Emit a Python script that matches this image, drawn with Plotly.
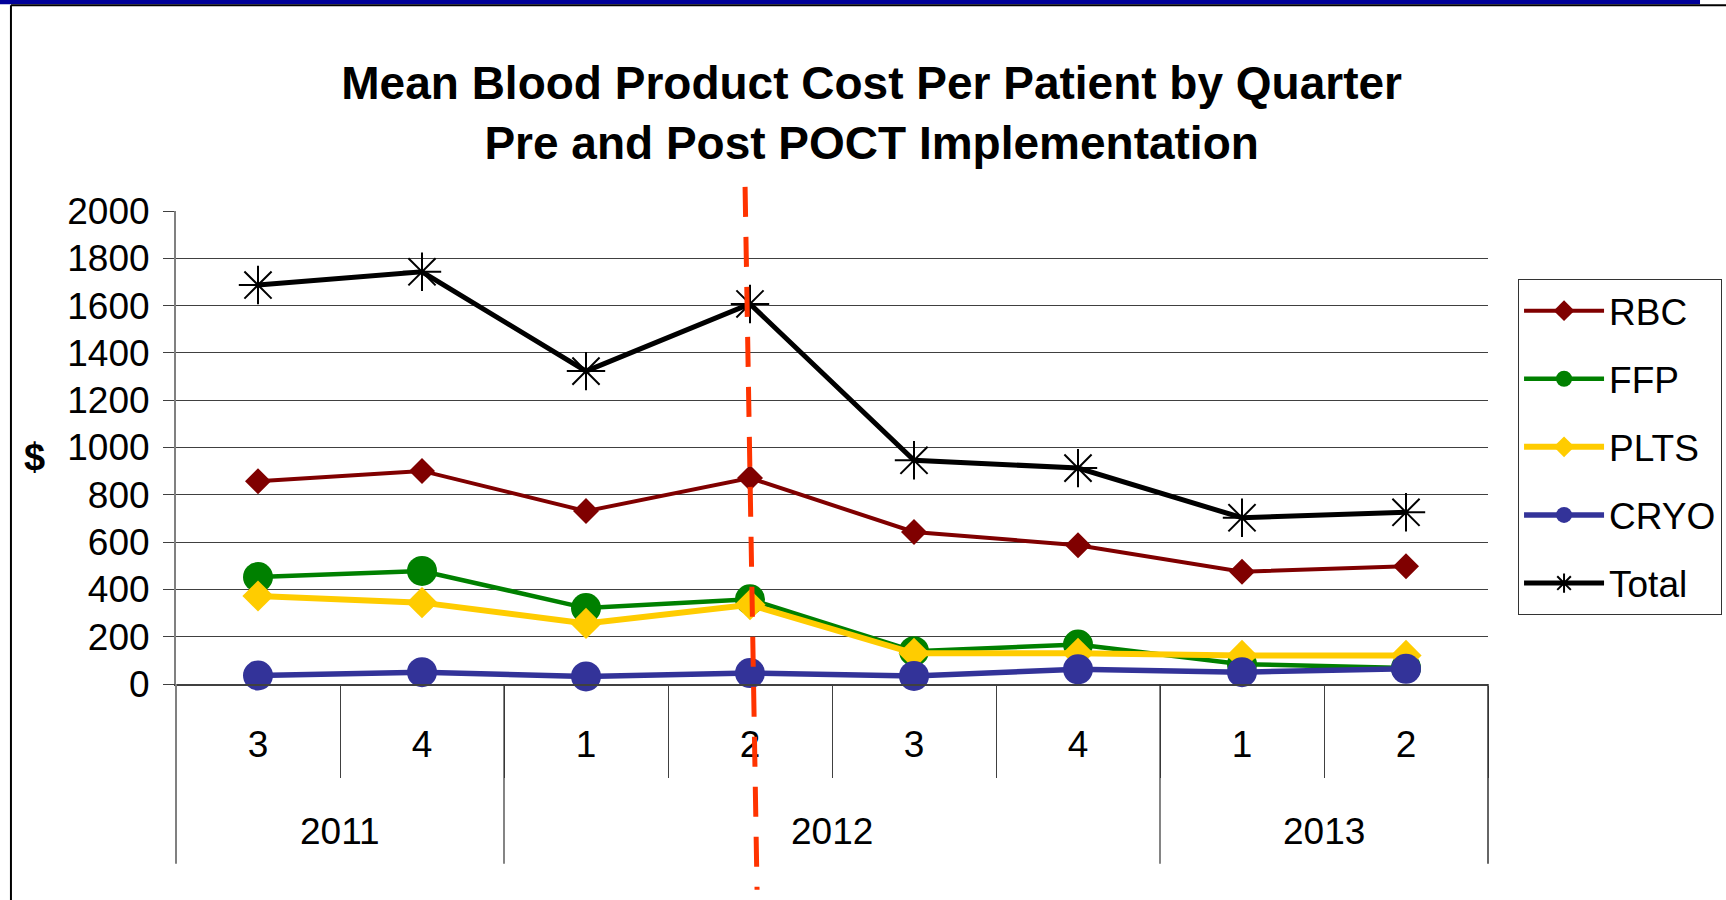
import plotly.graph_objects as go

# ---------------- data ----------------
quarters = ["3", "4", "1", "2", "3", "4", "1", "2"]
years = ["2011", "2012", "2013"]
year_spans = [(0, 1), (2, 5), (6, 7)]          # first / last quarter index of each year
rbc = [857, 901, 731, 871, 643, 587, 475, 498]
ffp = [452, 478, 321, 358, 139, 167, 84, 68]
plts = [372, 344, 256, 335, 130, 130, 121, 121]
cryo = [36, 50, 32, 46, 34, 62, 50, 64]
total = [1687, 1743, 1323, 1607, 946, 913, 703, 726]
y_ticks = list(range(0, 2001, 200))
poct_quarter = 3            # index of 2012 Q2 (POCT implementation)

x = list(range(len(quarters)))

FONT = "Liberation Sans, Arial, sans-serif"

fig = go.Figure()

series = [
    ("RBC", rbc, "#800000", "diamond", 20, 4),
    ("FFP", ffp, "#008000", "circle", 30, 4.5),
    ("PLTS", plts, "#FFCC00", "diamond", 24, 6),
    ("CRYO", cryo, "#333399", "circle", 30, 5.5),
]
for name, vals, col, sym, ms, lw in series:
    fig.add_trace(go.Scatter(
        x=x, y=vals, name=name, mode="lines+markers", legendgroup=name,
        line=dict(color=col, width=lw),
        marker=dict(symbol=sym, size=ms, color=col, line=dict(width=0)),
        cliponaxis=False,
    ))
fig.add_trace(go.Scatter(
    x=x, y=total, name="Total", mode="lines+markers", legendgroup="Total",
    line=dict(color="black", width=5),
    marker=dict(symbol="asterisk-open", size=32, color="black", line=dict(width=2, color="black")),
    cliponaxis=False,
))

shapes = []
# year dividers below the axis
for a, b in year_spans[:-1]:
    edge = b + 0.5
    shapes.append(dict(type="line", xref="x", yref="paper", x0=edge, x1=edge,
                       y0=0, y1=-0.38, line=dict(color="#333333", width=1.2), layer="above"))
# outer edges of the category table
shapes.append(dict(type="line", xref="paper", yref="paper", x0=0, x1=0, y0=0, y1=-0.38,
                   line=dict(color="#808080", width=2)))
shapes.append(dict(type="line", xref="paper", yref="paper", x0=1, x1=1, y0=0, y1=-0.38,
                   line=dict(color="#333333", width=1.5)))
# slide frame decoration
shapes.append(dict(type="rect", xref="paper", yref="paper", x0=-0.1342, x1=1.1616,
                   y0=1.4370, y1=1.4466, fillcolor="#000099", line=dict(width=0)))
shapes.append(dict(type="line", xref="paper", yref="paper", x0=-0.1258, x1=1.182,
                   y0=1.4349, y1=1.4349, line=dict(color="black", width=2)))
shapes.append(dict(type="line", xref="paper", yref="paper", x0=-0.1258, x1=-0.1258,
                   y0=1.4349, y1=-0.46, line=dict(color="black", width=2)))
# POCT implementation marker
shapes.append(dict(type="line", xref="x", yref="paper",
                   x0=poct_quarter - 0.03, x1=poct_quarter + 0.043, y0=1.051, y1=-0.435,
                   line=dict(color="#FF3300", width=5, dash="30px,20px"), layer="above"))

annotations = []
for yr, (a, b) in zip(years, year_spans):
    annotations.append(dict(text=yr, x=(a + b) / 2, xref="x", y=-0.312, yref="paper",
                            showarrow=False, xanchor="center", yanchor="middle",
                            font=dict(family=FONT, size=37, color="black")))
annotations.append(dict(text="<b>$</b>", x=-0.1075, xref="paper", y=0.479, yref="paper",
                        showarrow=False, xanchor="center", yanchor="middle",
                        font=dict(family=FONT, size=38, color="black")))

fig.update_layout(
    width=1726, height=900,
    margin=dict(l=176, r=238, t=211, b=216, pad=0, autoexpand=False),
    paper_bgcolor="white", plot_bgcolor="white",
    title=dict(
        text="<b>Mean Blood Product Cost Per Patient by Quarter<br>Pre and Post POCT Implementation</b>",
        x=0.505, xref="container", xanchor="center",
        y=0.8903, yref="container", yanchor="top",
        font=dict(family=FONT, size=46, color="black"),
    ),
    xaxis=dict(
        range=[-0.5, len(quarters) - 0.5], tickmode="array", tickvals=x, ticktext=quarters,
        ticks="", showgrid=False, zeroline=False,
        showline=True, linecolor="#404040", linewidth=2,
        tickfont=dict(family=FONT, size=37, color="black"),
        ticklabelstandoff=27,
        minor=dict(tickmode="linear", tick0=-0.5, dtick=1, ticks="outside", ticklen=92,
                   tickcolor="#404040", tickwidth=1, showgrid=False),
    ),
    yaxis=dict(
        range=[0, 2000], tickmode="array", tickvals=y_ticks,
        ticks="outside", ticklen=11, tickcolor="#404040", tickwidth=1,
        showgrid=True, gridcolor="#404040", gridwidth=1, zeroline=False,
        showline=True, linecolor="#808080", linewidth=2,
        tickfont=dict(family=FONT, size=37, color="black"),
        ticklabelstandoff=6,
    ),
    legend=dict(
        x=1.0229, xanchor="left", y=0.856, yanchor="top",
        bgcolor="white", bordercolor="#333333", borderwidth=1,
        font=dict(family=FONT, size=37, color="black"),
        itemwidth=80, tracegroupgap=17, traceorder="grouped",
    ),
    shapes=shapes,
    annotations=annotations,
)

fig.write_html("out.html", config={"displayModeBar": False},
               post_script="document.body.style.margin='0px';document.body.style.padding='0px';")
